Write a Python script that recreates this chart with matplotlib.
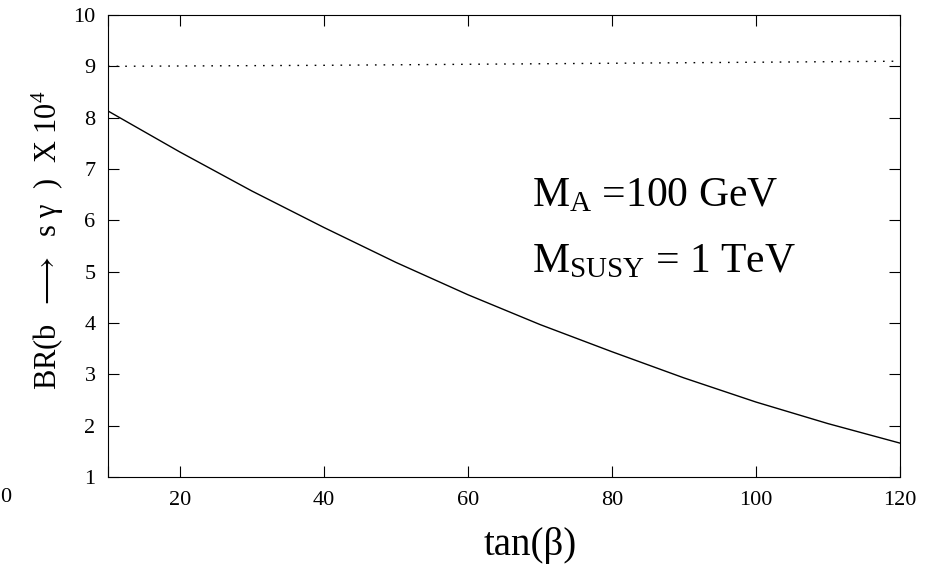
import matplotlib
matplotlib.use('Agg')
from matplotlib import pyplot as plt
import numpy as np

plt.rcParams['font.family'] = ['Liberation Serif', 'DejaVu Serif']
plt.rcParams['mathtext.fontset'] = 'custom'
plt.rcParams['mathtext.rm'] = 'Liberation Serif'
plt.rcParams['mathtext.it'] = 'Liberation Serif:italic'
plt.rcParams['mathtext.bf'] = 'Liberation Serif:bold'
plt.rcParams['mathtext.default'] = 'rm'

# BR(b -> s gamma) x 10^4 against tan(beta)
tan_beta = [10, 20, 30, 40, 50, 60, 70, 80, 90, 100, 110, 120]
br_solid = [8.13, 7.33, 6.57, 5.86, 5.18, 4.55, 3.97, 3.44, 2.93, 2.46, 2.04, 1.66]
tan_beta_dot = [10, 40, 60, 80, 100, 120]
br_dotted = [9.00, 9.02, 9.04, 9.06, 9.08, 9.10]

xticks = [10, 20, 40, 60, 80, 100, 120]
xticklabels = ['', '20', '40', '60', '80', '100', '120']
yticks = list(range(1, 11))

fig = plt.figure(figsize=(9.37, 5.67), dpi=100)
ax = fig.add_axes([108/937, 1-477/567, (900-108)/937, (477-15)/567])

ax.plot(tan_beta, br_solid, color='black', lw=1.0)
ax.plot(tan_beta_dot, br_dotted, color='black', lw=1.0, dashes=(1.2, 5))

ax.set_xlim(10, 120)
ax.set_ylim(1, 10)
ax.set_xticks(xticks)
ax.set_xticklabels(xticklabels)
ax.set_yticks(yticks)
ax.tick_params(direction='in', length=8, width=0.8, top=True, right=True,
               labelsize=16, pad=9)
ax.tick_params(axis='x', pad=10)
for s in ax.spines.values():
    s.set_linewidth(0.8)

# only the "0" of the far-left label shows in the original
fig.text(0, 1-498/567, '0', fontsize=16, ha='left', va='center')

fig.text(530/937, 1-545/567, 'tan(β)', fontsize=28, ha='center', va='center')
fig.text(48/937, 1-240/567, r'BR(b  $\longrightarrow$  s γ  )  X 10$^{\mathregular{4}}$',
         fontsize=22, rotation=90, ha='center', va='center')

ax.text(532/937, 1-196/567, r'M$_{\mathrm{A}}$ =100 GeV', fontsize=30,
        transform=fig.transFigure, ha='left', va='center')
ax.text(532/937, 1-262/567, r'M$_{\mathrm{SUSY}}$ = 1 TeV', fontsize=30,
        transform=fig.transFigure, ha='left', va='center')

fig.savefig('out.png', dpi=100)
